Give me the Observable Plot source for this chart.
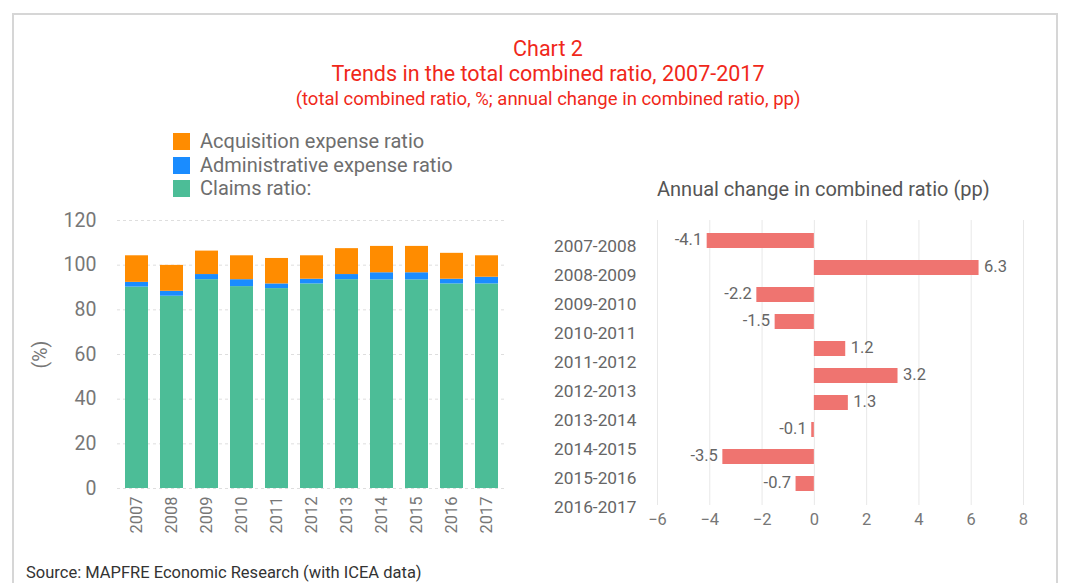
<!DOCTYPE html>
<html>
<head>
<meta charset="utf-8">
<script src="https://cdn.jsdelivr.net/npm/d3@7"></script>
<script src="https://cdn.jsdelivr.net/npm/@observablehq/plot@0.6"></script>
<style>
  html, body { margin: 0; padding: 0; background: #fff; }
  body { width: 1078px; height: 583px; overflow: hidden; position: relative; font-family: Roboto, "Noto Sans", sans-serif; }
  #frame { position: absolute; left: 12px; top: 13px; width: 1046px; height: 600px; border: 2px solid #d6d6d6; box-sizing: border-box; }
  .t { position: absolute; left: 0; width: 1096px; text-align: center; color: #f0281a; }
  #legend { position: absolute; left: 173px; top: 130px; font-size: 20px; color: #6e6e6e; line-height: 23.5px; }
  #legend .row { display: flex; align-items: center; }
  #legend .sw { width: 17px; height: 17px; margin-right: 10px; }
  #rtitle { position: absolute; left: 657px; top: 177px; font-size: 20px; color: #555; }
  #source { position: absolute; left: 26px; top: 563px; font-size: 16.5px; color: #333; }
  #left { position: absolute; left: 0; top: 205px; }
  #right { position: absolute; left: 540px; top: 200px; }
  #rightAxis { position: absolute; left: 540px; top: 200px; }
</style>
</head>
<body>
<div id="frame"></div>
<div class="t" style="top:36px;font-size:21.5px;">Chart 2</div>
<div class="t" style="top:61px;font-size:21.5px;">Trends in the total combined ratio, 2007-2017</div>
<div class="t" style="top:88px;font-size:18.5px;">(total combined ratio, %; annual change in combined ratio, pp)</div>
<div id="legend"></div>
<div id="rtitle">Annual change in combined ratio (pp)</div>
<div id="left"></div>
<div id="right"></div>
<div id="rightAxis"></div>
<div id="source">Source: MAPFRE Economic Research (with ICEA data)</div>
<script>
// ---- data ----
const years = ["2007","2008","2009","2010","2011","2012","2013","2014","2015","2016","2017"];
const claimsRatio = [90.2, 86.1, 93.5, 90.4, 89.5, 91.6, 93.5, 93.4, 93.4, 91.6, 91.6];
const adminRatio  = [2.1, 2.2, 2.3, 3.1, 2.1, 2.1, 2.3, 3.2, 3.2, 2.1, 3.0];
const acqRatio    = [11.9, 11.6, 10.5, 10.7, 11.4, 10.5, 11.6, 11.8, 11.8, 11.6, 9.6];
const seriesNames = ["Claims ratio:", "Administrative expense ratio", "Acquisition expense ratio"];
const seriesColors = ["#4cbd97", "#1a8cff", "#ff8c00"];
const yTicks = [0, 20, 40, 60, 80, 100, 120];

const periods = ["2007-2008","2008-2009","2009-2010","2010-2011","2011-2012","2012-2013","2013-2014","2014-2015","2015-2016","2016-2017"];
const changes = [-4.1, 6.3, -2.2, -1.5, 1.2, 3.2, 1.3, -0.1, -3.5, -0.7];
const xTicksRight = [-6, -4, -2, 0, 2, 4, 6, 8];

// ---- legend (top to bottom: acquisition, admin, claims) ----
const legend = document.getElementById("legend");
[2, 1, 0].forEach(i => {
  const r = document.createElement("div");
  r.className = "row";
  r.innerHTML = `<span class="sw" style="background:${seriesColors[i]}"></span><span>${seriesNames[i]}</span>`;
  legend.appendChild(r);
});

// ---- left stacked bar chart ----
const stacked = [];
years.forEach((y, i) => {
  stacked.push({year: y, series: seriesNames[0], value: claimsRatio[i]});
  stacked.push({year: y, series: seriesNames[1], value: adminRatio[i]});
  stacked.push({year: y, series: seriesNames[2], value: acqRatio[i]});
});

const left = Plot.plot({
  width: 530,
  height: 340,
  marginLeft: 117,
  marginRight: 24,
  marginTop: 15,
  marginBottom: 57,
  style: {fontFamily: "Roboto, sans-serif", color: "#777", background: "transparent"},
  x: {domain: years, paddingInner: 0.34, paddingOuter: 0.15},
  y: {domain: [0, 120]},
  color: {domain: seriesNames, range: seriesColors},
  marks: [
    Plot.gridY(yTicks, {stroke: "#dedede", strokeOpacity: 1, strokeDasharray: "3,3"}),
    Plot.barY(stacked, Plot.stackY({order: seriesNames}, {x: "year", y: "value", fill: "series"})),
    Plot.axisY(yTicks, {tickSize: 0, tickPadding: 21, fontSize: 19.5, label: "(%)", labelAnchor: "center", labelOffset: 84, labelArrow: false}),
    Plot.axisX({tickSize: 0, tickPadding: 8, tickRotate: -90, fontSize: 16.5, label: null})
  ]
});
document.getElementById("left").appendChild(left);

// ---- right horizontal bar chart ----
const changeData = periods.map((p, i) => ({period: p, change: changes[i]}));
const right = Plot.plot({
  width: 520,
  height: 340,
  marginLeft: 117,
  marginRight: 37,
  marginTop: 20,
  marginBottom: 35,
  style: {fontFamily: "Roboto, sans-serif", color: "#777", background: "transparent"},
  x: {domain: [-6, 8]},
  y: {domain: periods, padding: 0.43, axis: null},
  marks: [
    Plot.gridX(xTicksRight, {stroke: "#e8e8e8", strokeOpacity: 1}),
    Plot.barX(changeData, {x: "change", y: "period", fill: "#ef7470"}),
    Plot.text(changeData.filter(d => d.change < 0), {x: "change", y: "period", text: d => d.change.toFixed(1),
      textAnchor: "end", dx: -5, dy: -1, fontSize: 16.5, fill: "#666"}),
    Plot.text(changeData.filter(d => d.change >= 0), {x: "change", y: "period", text: d => d.change.toFixed(1),
      textAnchor: "start", dx: 5, dy: -1, fontSize: 16.5, fill: "#666"}),
    Plot.axisX(xTicksRight, {tickSize: 0, tickPadding: 8, fontSize: 16.5, label: null})
  ]
});
document.getElementById("right").appendChild(right);

// category labels of the right chart, spaced as in the original
const rightAxis = Plot.plot({
  width: 120,
  height: 340,
  marginLeft: 117,
  marginRight: 3,
  marginTop: 0,
  marginBottom: 0,
  style: {fontFamily: "Roboto, sans-serif", color: "#666", background: "transparent"},
  y: {type: "point", domain: periods, range: [43, 310], padding: 0},
  marks: [
    Plot.axisY({tickSize: 0, tickPadding: 21, fontSize: 17.3, label: null})
  ]
});
document.getElementById("rightAxis").appendChild(rightAxis);
</script>
</body>
</html>
